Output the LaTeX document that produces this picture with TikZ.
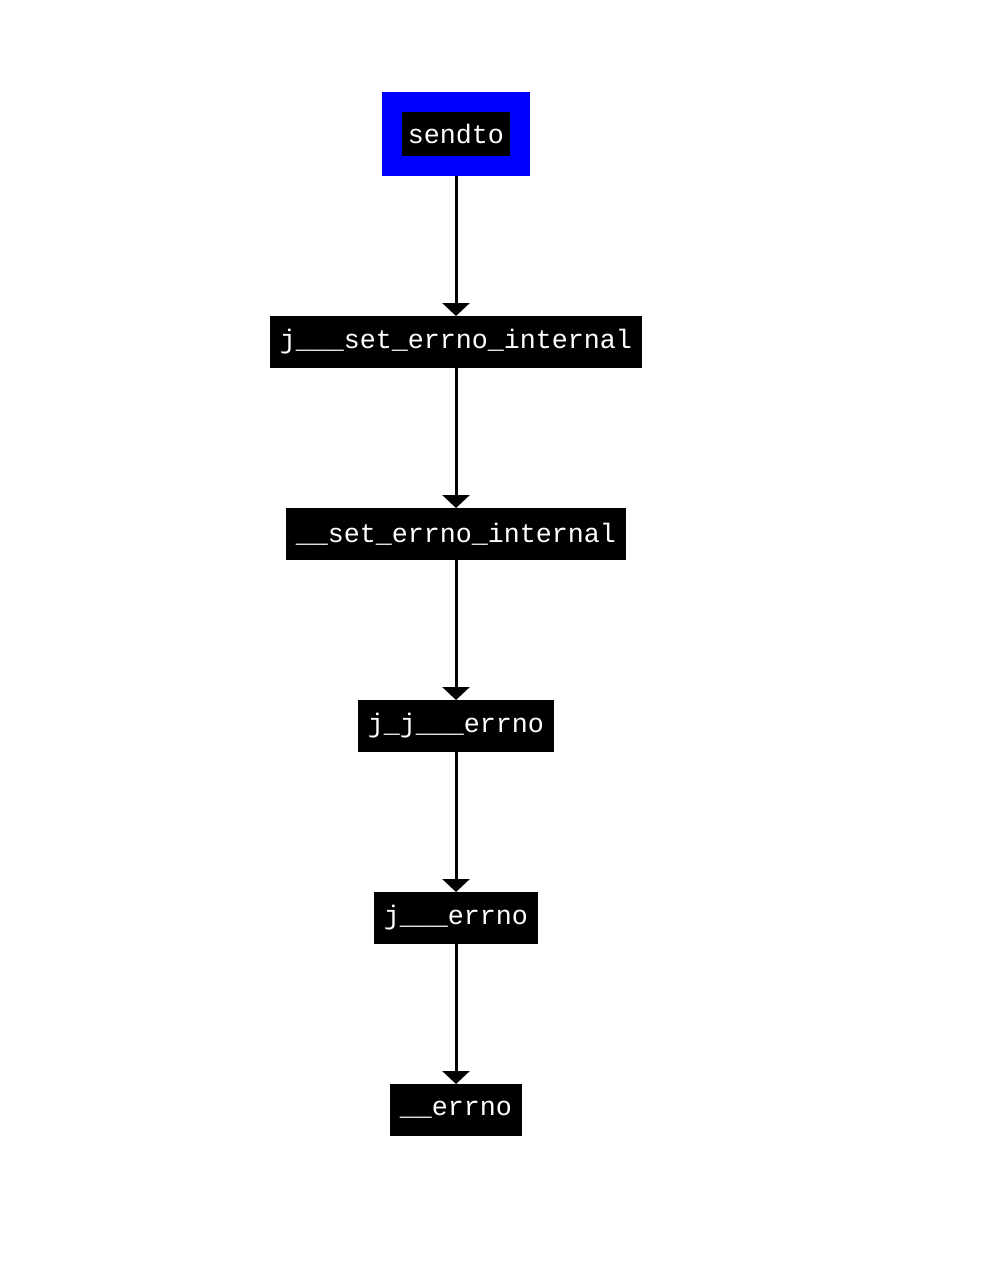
\documentclass[tikz,border=0pt]{standalone}
\usepackage{fontspec}
\setmonofont{Liberation Mono}
\usetikzlibrary{arrows.meta}
\tikzset{
  >={Triangle[width=20.25pt,length=9.75pt]},
}
\tikzstyle{func}=[rectangle,fill=black,text=white,outer sep=0pt,
  minimum height=39pt,inner xsep=7.5pt,
  font=\ttfamily\fontsize{20}{24}\selectfont]
\tikzstyle{entry}=[func,draw=blue,line width=15pt,outer sep=7.5pt,
  minimum height=48pt,inner xsep=12pt]
\tikzstyle{call}=[->,line width=2.25pt]

\begin{document}
\begin{tikzpicture}[x=0.75pt,y=-0.75pt]
    \useasboundingbox (0,0) rectangle (994,1288);
    \node[entry] (sendto) at (456,134) {sendto};
    \node[func] (jseterr) at (456,342) {j\_\_\_set\_errno\_internal};
    \node[func] (seterr) at (456,534) {\_\_set\_errno\_internal};
    \node[func] (jjerrno) at (456,726) {j\_j\_\_\_errno};
    \node[func] (jerrno) at (456,918) {j\_\_\_errno};
    \node[func] (errno) at (456,1110) {\_\_errno};
    \draw[call] (sendto.south)--(jseterr.north);
    \draw[call] (jseterr.south)--(seterr.north);
    \draw[call] (seterr.south)--(jjerrno.north);
    \draw[call] (jjerrno.south)--(jerrno.north);
    \draw[call] (jerrno.south)--(errno.north);
\end{tikzpicture}
\end{document}
